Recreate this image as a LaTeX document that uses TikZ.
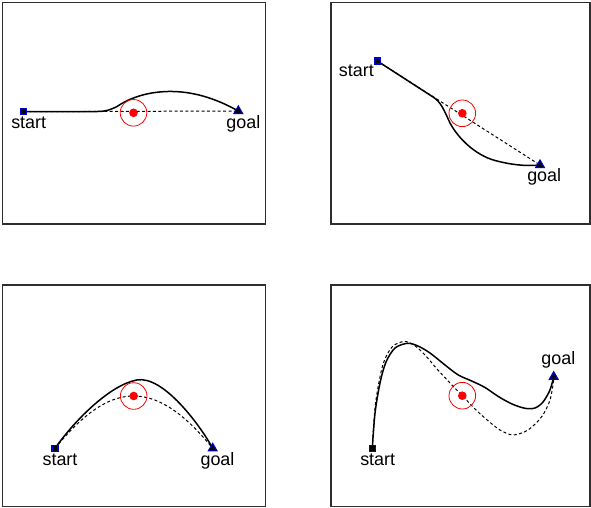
\documentclass[tikz,border=0pt]{standalone}
\usepackage{fontspec}
\setmainfont{Liberation Sans}
\usetikzlibrary{shapes.geometric}
\definecolor{framegray}{HTML}{2E2E2E}
\definecolor{mblue}{HTML}{0000CC}
\tikzset{
  panel/.style={draw=framegray, line width=1.3bp},
  solidpath/.style={draw=black, line width=1.5bp, line join=round},
  dashpath/.style={draw=black, line width=1bp, dash pattern=on 3bp off 2.4bp},
  ring/.style={draw=red, line width=0.8bp, circle, minimum size=26.6bp, inner sep=0pt},
  dot/.style={fill=red, circle, minimum size=8.6bp, inner sep=0pt},
  startmark/.style={rectangle, draw=mblue, fill=black, line width=1.1bp, minimum size=6bp, inner sep=0pt},
  goalmark/.style={regular polygon, regular polygon sides=3, draw=mblue, fill=black, line width=1.1bp, minimum size=10bp, inner sep=0pt},
  lab/.style={anchor=base, inner sep=0pt, font=\fontsize{18}{18}\selectfont}
}
\begin{document}
\begin{tikzpicture}[x=1bp,y=-1bp]
\useasboundingbox (0,0) rectangle (591,508);
% frames
\draw[panel] (2.5,2.7) rectangle (265.7,224);
\draw[panel] (331,2.7) rectangle (590,224);
\draw[panel] (2.5,285) rectangle (265.7,506.5);
\draw[panel] (331,285) rectangle (590,506.5);

% ---------- panel 1
\coordinate (s1) at (23.3,111.7);
\coordinate (g1) at (238.3,111);
\coordinate (o1) at (133.5,112.8);
\draw[dashpath] (s1) -- (g1);
\draw[solidpath] (s1) -- (98,111.5) .. controls (106,111.3) and (110,110) .. (117,106.5)
  .. controls (128,99) and (145,92) .. (168,91.5) .. controls (192,91) and (215,98) .. (g1);
\node[ring] (r1) at (o1) {};
\node[dot] (d1) at (o1) {};
\node[startmark] (sm1) at (s1) {};
\node[goalmark] (gm1) at (g1) {};
\node[lab] (ls1) at (28.7,128.3) {start};
\node[lab] (lg1) at (243.3,128.3) {goal};

% ---------- panel 2
\coordinate (s2) at (377.3,61);
\coordinate (g2) at (540,165);
\coordinate (o2) at (462.3,113.3);
\draw[dashpath] (s2) -- (g2);
\draw[solidpath] (s2) -- (433,97) .. controls (441,102) and (444,110) .. (450,123)
  .. controls (458,138) and (475,155) .. (495,160.5) .. controls (510,164.5) and (525,166.5) .. (g2);
\node[ring] (r2) at (o2) {};
\node[dot] (d2) at (o2) {};
\node[startmark] (sm2) at (s2) {};
\node[goalmark] (gm2) at (g2) {};
\node[lab] (ls2) at (356.3,76.7) {start};
\node[lab] (lg2) at (544.2,181.7) {goal};

% ---------- panel 3
\coordinate (s3) at (55,448.3);
\coordinate (g3) at (212.7,448.3);
\coordinate (o3) at (133.7,396);
\draw[dashpath] (s3) .. controls (80,418) and (105,396) .. (o3) .. controls (162,396) and (188,418) .. (g3);
\draw[solidpath] (s3) .. controls (75,420) and (110,385) .. (136.7,380)
  .. controls (163,375) and (200,425) .. (g3);
\node[ring] (r3) at (o3) {};
\node[dot] (d3) at (o3) {};
\node[startmark] (sm3) at (s3) {};
\node[goalmark] (gm3) at (g3) {};
\node[lab] (ls3) at (60,465.7) {start};
\node[lab] (lg3) at (217.5,465.7) {goal};

% ---------- panel 4
\coordinate (s4) at (372.3,448.3);
\coordinate (g4) at (553.7,376.7);
\coordinate (o4) at (462.3,395.7);
\draw[dashpath] plot[smooth] coordinates {(372.3,448.3) (375.3,405) (382.5,366) (392,347) (404,341.5) (414,345) (425,355) (437,369) (450,383) (462.3,395.7) (474,408) (486,419) (500,430) (513,435) (528,430) (541.7,416.7) (550,400) (553.7,380)};
\draw[solidpath] plot[smooth] coordinates {(372.3,448.3) (375,413.3) (380,383) (386,362) (395,348) (407.5,343.3) (418,346) (430,353) (445,365) (458.3,375) (471.7,381) (485,387.5) (498.3,396.5) (512,404) (525,408.3) (535,408) (543,402) (550,390) (553.7,376.7)};
\node[ring] (r4) at (o4) {};
\node[dot] (d4) at (o4) {};
\node[startmark] (sm4) at (s4) {};
\node[goalmark] (gm4) at (g4) {};
\node[lab] (ls4) at (377.7,465.7) {start};
\node[lab] (lg4) at (558.3,364.3) {goal};
\end{tikzpicture}
\end{document}
